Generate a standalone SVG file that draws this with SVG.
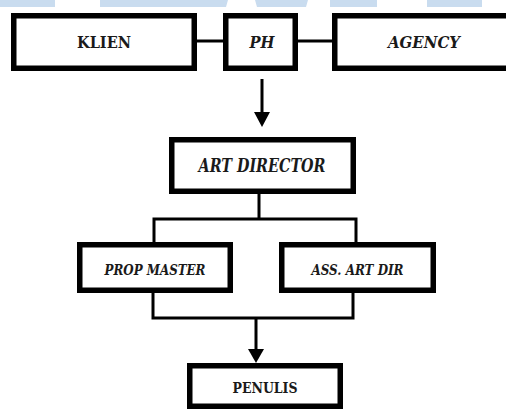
<svg xmlns="http://www.w3.org/2000/svg" width="506" height="411" viewBox="0 0 506 411">
<style>
.box{fill:#fff;stroke:#000;stroke-width:5.5}
.ln{fill:none;stroke:#000;stroke-width:3}
.t{font-family:"DejaVu Serif","Liberation Serif",serif;font-weight:bold;fill:#1a1a1a;text-anchor:middle}
.i{font-style:italic}
.wm{fill:#c9dcef}
</style>
<rect width="506" height="411" fill="#fff"/>
<g id="watermark">
<polygon class="wm" points="0,0 55,0 55,7 0,7"/>
<polygon class="wm" points="100,0 228,0 226,7 100,7"/>
<polygon class="wm" points="255,0 308,0 306,7 257,7"/>
<polygon class="wm" points="330,0 377,0 377,7 330,7"/>
<polygon class="wm" points="427,0 482,0 482,7 427,7"/>
</g>
<g id="connectors">
<line class="ln" x1="197" y1="41" x2="223" y2="41"/>
<line class="ln" x1="298" y1="41" x2="332" y2="41"/>
<line class="ln" x1="262" y1="79" x2="262" y2="114"/>
<polygon points="254,112 270,112 262,127" fill="#000"/>
<line class="ln" x1="259" y1="194" x2="259" y2="219"/>
<polyline class="ln" points="154,242 154,219 356,219 356,242"/>
<polyline class="ln" points="153,293 153,318 353,318 353,293"/>
<line class="ln" x1="256" y1="318" x2="256" y2="351"/>
<polygon points="248,349 264,349 256,363" fill="#000"/>
</g>
<g id="klien">
<rect class="box" x="13.75" y="15.75" width="180.5" height="52.5"/>
<text class="t" x="104" y="48" font-size="16.5" textLength="54" lengthAdjust="spacingAndGlyphs">KLIEN</text>
</g>
<g id="ph">
<rect class="box" x="225.75" y="15.75" width="69.5" height="52.5"/>
<text class="t i" x="262" y="48" font-size="16.5" textLength="25" lengthAdjust="spacingAndGlyphs">PH</text>
</g>
<g id="agency">
<rect class="box" x="334.75" y="15.75" width="178.5" height="52.5"/>
<text class="t i" x="424" y="48" font-size="16.5" textLength="72" lengthAdjust="spacingAndGlyphs">AGENCY</text>
</g>
<g id="art-director">
<rect class="box" x="171.75" y="139.75" width="181.5" height="51.5"/>
<text class="t i" x="262" y="172" font-size="18" textLength="127" lengthAdjust="spacingAndGlyphs">ART DIRECTOR</text>
</g>
<g id="prop-master">
<rect class="box" x="79.75" y="244.75" width="150.5" height="45.5"/>
<text class="t i" x="155" y="274.5" font-size="14.5" textLength="101" lengthAdjust="spacingAndGlyphs">PROP MASTER</text>
</g>
<g id="ass-art-dir">
<rect class="box" x="281.75" y="244.75" width="151.5" height="45.5"/>
<text class="t i" x="357.5" y="274.5" font-size="14.5" textLength="92" lengthAdjust="spacingAndGlyphs">ASS. ART DIR</text>
</g>
<g id="penulis">
<rect class="box" x="189.75" y="365.75" width="150.5" height="40.5"/>
<text class="t" x="265" y="392.5" font-size="14.5" textLength="65" lengthAdjust="spacingAndGlyphs">PENULIS</text>
</g>
</svg>
